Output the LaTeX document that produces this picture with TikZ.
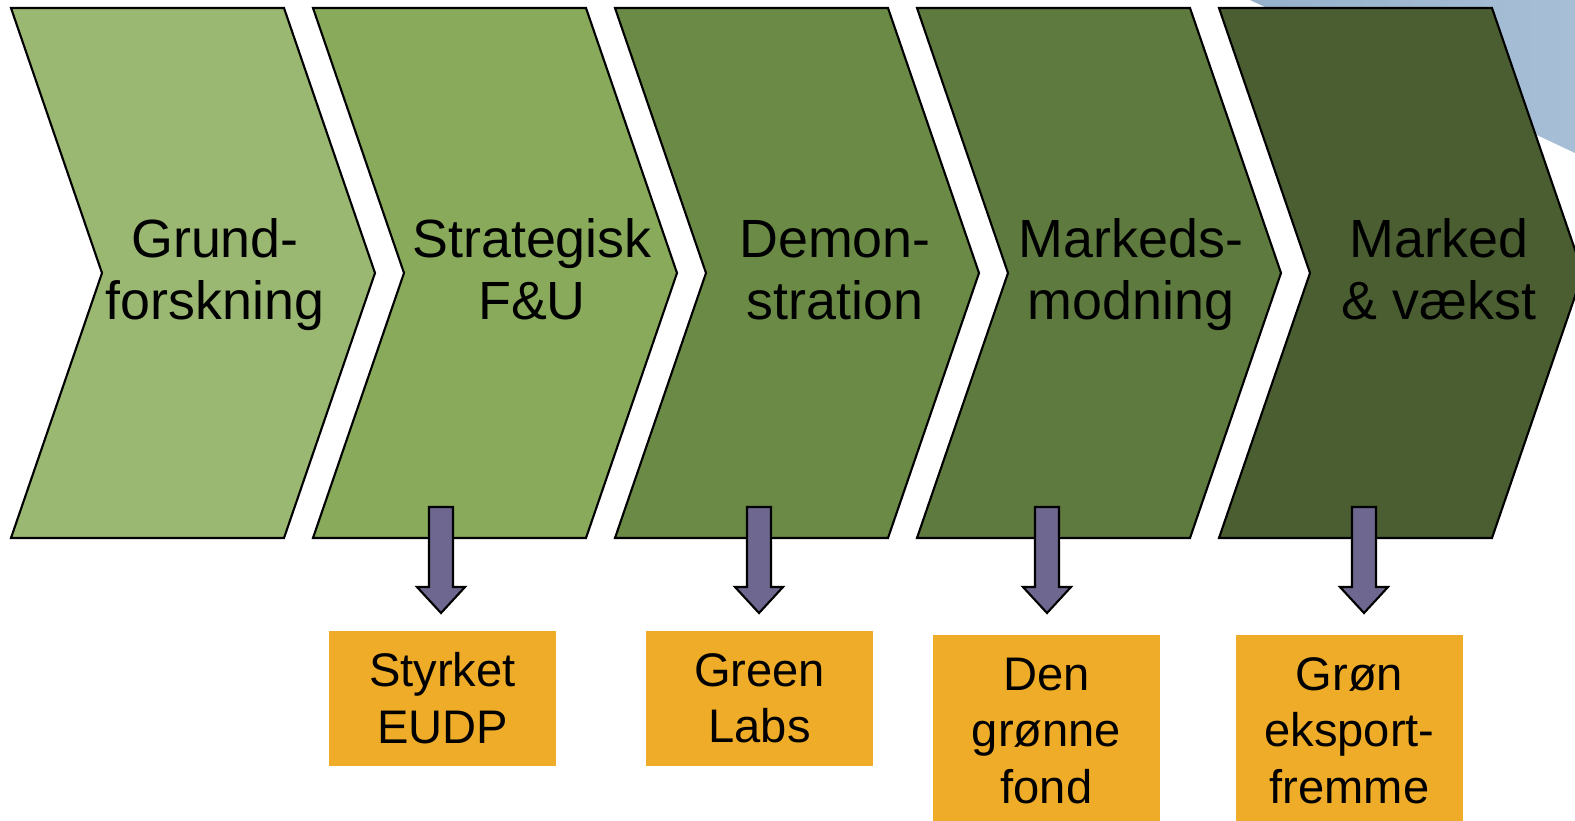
\documentclass[tikz,border=0pt]{standalone}
\usepackage{fontspec}
\setmainfont{Liberation Sans}
\definecolor{chevA}{HTML}{9BB872}
\definecolor{chevB}{HTML}{88AA5A}
\definecolor{chevC}{HTML}{6A8A46}
\definecolor{chevD}{HTML}{5E7A3E}
\definecolor{chevE}{HTML}{4A5E31}
\definecolor{arrowfill}{HTML}{6E6790}
\definecolor{fundfill}{HTML}{EFAC28}
\definecolor{skyL}{HTML}{97B2CB}
\definecolor{skyR}{HTML}{A7BFD6}
\tikzset{
  chevron/.style={draw=black, line width=0.6pt, line join=miter},
  stagetext/.style={align=center, inner sep=0pt, font=\fontsize{15.3}{17.6}\selectfont},
  blockarrow/.style={draw=black, line width=0.6pt, fill=arrowfill},
  fund/.style={fill=fundfill, align=center, inner sep=0pt, minimum width=2.27cm, anchor=north, font=\fontsize{13.4}{16}\selectfont}
}
\begin{document}
\begin{tikzpicture}[x=0.01cm, y=-0.01cm]
\useasboundingbox (0,0) rectangle (1575,821);
\clip (0,0) rectangle (1575,821);
\shade[left color=skyL, right color=skyR] (1250,0) -- (1575,0) -- (1575,153) -- cycle;
\foreach \i/\col/\tx/\txt in {1/chevA/215/{Grund-\\forskning}, 2/chevB/532/{Strategisk\\F\&U}, 3/chevC/835/{Demon-\\stration}, 4/chevD/1131/{Markeds-\\modning}, 5/chevE/1439/{Marked\\\& vækst}}
{
  \draw[chevron, fill=\col] ({11+302*(\i-1)},8) -- ++(273,0) -- ++(91,265) -- ++(-91,265) -- ++(-273,0) -- ++(91,-265) -- cycle;
  \node[stagetext, anchor=base] (c\i) at (\tx,319) {\txt};
}
\foreach \x in {441,759,1047,1364}
  \draw[blockarrow] (\x-12,507) -- (\x+12,507) -- (\x+12,587) -- (\x+24,587) -- (\x,613) -- (\x-24,587) -- (\x-12,587) -- cycle;
\node[fund, minimum height=1.35cm] (b2) at (442.5,630) {Styrket\\EUDP};
\node[fund, minimum height=1.35cm] (b3) at (759.5,630) {Green\\Labs};
\node[fund, minimum height=1.92cm] (b4) at (1046.5,634) {Den\\grønne\\fond};
\node[fund, minimum height=1.92cm] (b5) at (1349.5,634) {Grøn\\eksport-\\fremme};
\end{tikzpicture}
\end{document}
